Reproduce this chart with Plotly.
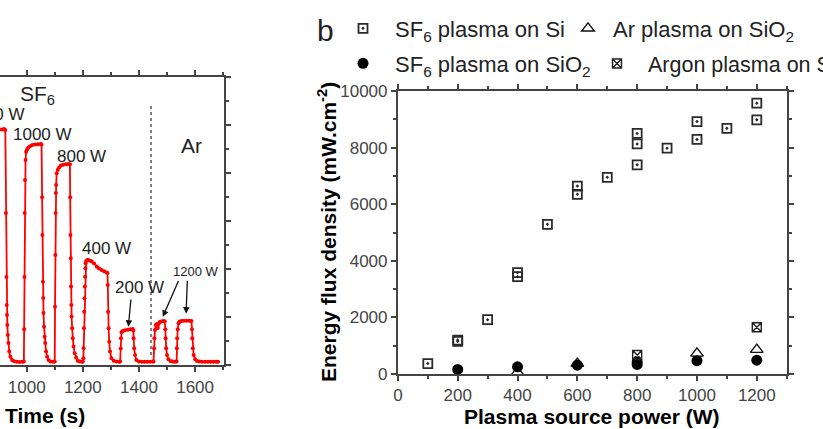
import plotly.graph_objects as go

W, H = 823, 429
FONT = "Liberation Sans, Arial, sans-serif"

# ---------------- panel a : time trace (arbitrary units, left axis cropped) --------------
time_s = [880, 900, 912, 920, 924,
          926, 928, 929, 930, 931, 933, 935, 938, 942, 948, 955, 965, 975, 985,
          990, 991, 992, 993, 994, 996, 998, 1002, 1006, 1012, 1020, 1030, 1040, 1050, 1053,
          1055, 1056, 1058, 1059, 1060, 1062, 1064, 1066, 1069, 1073, 1078, 1085, 1095,
          1100, 1101, 1102, 1103, 1104, 1105, 1107, 1111, 1116, 1122, 1130, 1140, 1148, 1154,
          1155, 1156, 1157, 1158, 1159, 1160, 1162, 1164, 1167, 1171, 1176, 1182, 1190, 1198,
          1200, 1202, 1203, 1204, 1205, 1206, 1207, 1208, 1209, 1210, 1212, 1216, 1220, 1226,
          1232, 1240, 1250, 1258, 1267, 1276, 1285, 1288,
          1289, 1290, 1292, 1294, 1297, 1302, 1310, 1320, 1330,
          1333, 1335, 1336, 1338, 1342, 1350, 1360, 1370, 1378, 1380, 1381, 1383, 1386, 1391, 1400,
          1410, 1420, 1430, 1440, 1450,
          1452, 1454, 1455, 1457, 1460, 1464, 1467, 1470, 1474, 1480, 1486, 1492, 1494, 1495,
          1497, 1500, 1505, 1512, 1520, 1528, 1534,
          1535, 1536, 1538, 1541, 1545, 1552, 1560, 1570, 1580, 1587, 1589, 1590, 1592, 1595,
          1600, 1607, 1615, 1625, 1635, 1645, 1655, 1665, 1675, 1682]
signal = [9.78, 9.80, 9.83, 9.85, 9.80,
          6.35, 3.68, 2.51, 2.10, 1.68, 1.26, 0.93, 0.57, 0.36, 0.22, 0.17, 0.15, 0.14, 0.15,
          0.16, 1.50, 3.68, 6.35, 7.72, 8.55, 8.90, 9.00, 9.08, 9.13, 9.18, 9.20, 9.21, 9.22, 9.20,
          7.00, 5.43, 3.48, 2.80, 2.18, 1.61, 1.19, 0.93, 0.57, 0.36, 0.22, 0.16, 0.15,
          0.16, 2.44, 4.60, 6.35, 7.18, 7.51, 8.00, 8.15, 8.25, 8.32, 8.36, 8.38, 8.39, 8.38,
          7.00, 5.43, 4.46, 3.28, 2.51, 2.03, 1.54, 1.13, 0.78, 0.50, 0.32, 0.19, 0.16, 0.15,
          0.16, 0.29, 0.71, 1.54, 2.23, 2.79, 3.28, 3.69, 4.04, 4.25, 4.35, 4.39, 4.39, 4.36,
          4.32, 4.24, 4.11, 4.03, 3.97, 3.92, 3.87, 3.85,
          3.35, 2.23, 1.54, 0.98, 0.57, 0.29, 0.19, 0.16, 0.15,
          0.16, 0.70, 1.13, 1.38, 1.43, 1.46, 1.48, 1.50, 1.51, 1.45, 1.13, 0.71, 0.43, 0.22, 0.16,
          0.15, 0.15, 0.15, 0.15, 0.16,
          0.16, 0.71, 1.13, 1.47, 1.68, 1.72, 1.55, 1.72, 1.80, 1.83, 1.85, 1.84, 1.50, 1.13,
          0.71, 0.43, 0.25, 0.18, 0.16, 0.15, 0.16,
          0.71, 1.13, 1.50, 1.75, 1.82, 1.85, 1.86, 1.86, 1.86, 1.85, 1.50, 1.13, 0.71, 0.43,
          0.25, 0.18, 0.16, 0.15, 0.15, 0.15, 0.15, 0.15, 0.15, 0.15]
ar_boundary_time = [1443, 1443]
ar_boundary_level = [0.43, 10.85]
time_ticks = [1000, 1200, 1400, 1600]

# ---------------- panel b : energy flux density vs source power --------------------------
sf6_si_power = [100, 200, 200, 300, 400, 400, 500, 600, 600, 700, 800, 800, 800, 900,
                1000, 1000, 1100, 1200, 1200]
sf6_si_flux = [370, 1150, 1200, 1920, 3580, 3440, 5290, 6640, 6350, 6950, 8500, 8130, 7390,
               7980, 8920, 8290, 8680, 9570, 8980]
sf6_sio2_power = [200, 400, 600, 800, 800, 1000, 1200]
sf6_sio2_flux = [160, 255, 310, 420, 340, 470, 490]
ar_sio2_power = [400, 600, 1000, 1200]
ar_sio2_flux = [60, 370, 730, 860]
argon_si_power = [800, 1200]
argon_si_flux = [670, 1650]


def fx(px):
    return px / W


def fy(py):
    return 1 - py / H


fig = go.Figure()

fig.add_trace(go.Scatter(x=ar_boundary_time, y=ar_boundary_level, mode="lines",
                         line=dict(color="#808080", width=2, dash="dot"),
                         xaxis="x", yaxis="y", showlegend=False, hoverinfo="skip"))
fig.add_trace(go.Scatter(x=time_s, y=signal, mode="lines+markers",
                         line=dict(color="#ff0000", width=1.8),
                         marker=dict(color="#ff0000", size=4),
                         xaxis="x", yaxis="y", showlegend=False))

fig.add_trace(go.Scatter(x=sf6_si_power, y=sf6_si_flux, mode="markers",
                         name="SF<sub>6</sub> plasma on Si",
                         marker=dict(symbol="square-open-dot", size=9, color="#2a2a2a",
                                     line=dict(width=1.8, color="#2a2a2a")),
                         xaxis="x2", yaxis="y2", legend="legend"))
fig.add_trace(go.Scatter(x=ar_sio2_power, y=ar_sio2_flux, mode="markers",
                         name="Ar plasma on SiO<sub>2</sub>",
                         marker=dict(symbol="triangle-up-open", size=11, color="#111",
                                     line=dict(width=1.4, color="#111")),
                         xaxis="x2", yaxis="y2", legend="legend2"))
fig.add_trace(go.Scatter(x=sf6_sio2_power, y=sf6_sio2_flux, mode="markers",
                         name="SF<sub>6</sub> plasma on SiO<sub>2</sub>",
                         marker=dict(symbol="circle", size=11, color="#000"),
                         xaxis="x2", yaxis="y2", legend="legend3"))
fig.add_trace(go.Scatter(x=argon_si_power, y=argon_si_flux, mode="markers",
                         name="Argon plasma on Si",
                         marker=dict(symbol="square-x-open", size=9, color="#222",
                                     line=dict(width=1.4, color="#222")),
                         xaxis="x2", yaxis="y2", legend="legend4"))

axis_common = dict(showgrid=False, zeroline=False, showline=True, linecolor="#444",
                   linewidth=2, ticks="outside", ticklen=5, tickwidth=1.5, tickcolor="#444",
                   tickfont=dict(family=FONT, size=17, color="#444"))

# pixel frames
A_L, A_R, A_T, A_B = 0, 224, 77.3, 365.3
B_L, B_R, B_T, B_B = 397.9, 786.7, 91, 374

fig.update_layout(
    width=W, height=H,
    margin=dict(l=0, r=0, t=0, b=0, autoexpand=False),
    paper_bgcolor="white", plot_bgcolor="white",
    font=dict(family=FONT, color="#222"),
    xaxis=dict(domain=[fx(A_L), fx(A_R)], range=[905, 1703], anchor="y",
               tickvals=time_ticks, mirror="ticks",
               minor=dict(dtick=100, tick0=1000, ticklen=3, ticks="outside", tickcolor="#444"),
               **axis_common),
    yaxis=dict(domain=[fy(A_B), fy(A_T)], range=[0, 12], anchor="x", side="right",
               dtick=2, showticklabels=False,
               minor=dict(dtick=1, ticklen=3, ticks="outside", tickcolor="#444"),
               **axis_common),
    xaxis2=dict(domain=[fx(B_L), fx(B_R)], range=[0, 1300], anchor="y2", dtick=200,
                mirror="ticks", tickformat="d",
                minor=dict(dtick=100, ticklen=3, ticks="outside", tickcolor="#444"),
                **axis_common),
    yaxis2=dict(domain=[fy(B_B), fy(B_T)], range=[0, 10000], anchor="x2", dtick=2000,
                mirror="ticks", tickformat="d",
                minor=dict(dtick=1000, ticklen=3, ticks="outside", tickcolor="#444"),
                **axis_common),
)

leg_common = dict(bgcolor="rgba(0,0,0,0)", xanchor="left", yanchor="middle", borderwidth=0)
leg_font = dict(family=FONT, size=22, color="#222")
fig.update_layout(
    legend=dict(x=fx(331), y=fy(28.5), itemwidth=54, font=leg_font, **leg_common),
    legend2=dict(x=fx(563), y=fy(28.5), itemwidth=40, font=leg_font, **leg_common),
    legend3=dict(x=fx(331), y=fy(63.5), itemwidth=54, font=leg_font, **leg_common),
    legend4=dict(x=fx(586), y=fy(63.5), itemwidth=52,
                 font=dict(family=FONT, size=21.5, color="#222"), **leg_common),
)

ann = []


def label(text, px, py, size, xanchor="center", bold=False, angle=0):
    ann.append(dict(text=("<b>%s</b>" % text) if bold else text, x=fx(px), y=fy(py),
                    xref="paper", yref="paper", xanchor=xanchor, yanchor="middle",
                    showarrow=False, textangle=angle,
                    font=dict(family=FONT, size=size, color="#222" if not bold else "#000")))


label("SF<sub>6</sub>", 18, 95, 21, xanchor="left")
label("1200 W", 27, 114.5, 17, xanchor="right")
label("1000 W", 42, 134, 17)
label("800 W", 81.5, 157, 17)
label("400 W", 106.5, 248.5, 17)
label("200 W", 139, 287.5, 17)
label("1200 W", 195.5, 271, 13)
label("Ar", 191, 145, 21)
label("Time (s)", 45, 415, 21, bold=True)
label("Plasma source power (W)", 592, 416, 21, bold=True)
label("Energy flux density (mW.cm<sup>-2</sup>)", 327, 232, 21, bold=True, angle=-90)
label("b", 325.5, 31, 30)

# arrows (tip in data coordinates, tail offset in pixels)
for tip_t, tip_v, ax, ay in [(1362.3, 1.61, 2.7, -28.7), (1484.9, 2.02, 16.3, -37.4),
                             (1567.9, 2.15, 1.3, -34.4)]:
    ann.append(dict(x=tip_t, y=tip_v, xref="x", yref="y", ax=ax, ay=ay, text="",
                    showarrow=True, arrowhead=2, arrowsize=1, arrowwidth=1.3,
                    arrowcolor="#111", standoff=0))

fig.update_layout(annotations=ann)

fig.write_html("out.html", config={"displayModeBar": False},
               post_script="document.body.style.margin='0';")
